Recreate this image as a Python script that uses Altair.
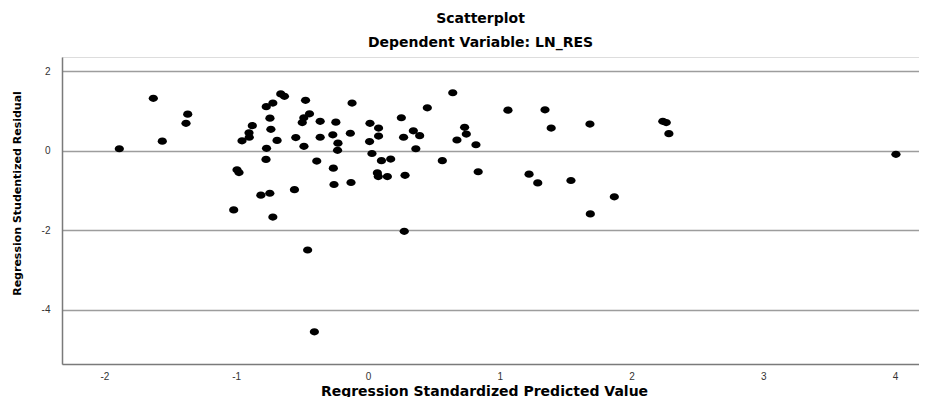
import altair as alt
import pandas as pd

# Regression Standardized Predicted Value
pred = [-1.887, -1.629, -1.561, -1.368, -1.381, -1.019, -0.994, -0.979, -0.956, -0.903,
        -0.901, -0.878, -0.813, -0.774, -0.770, -0.772, -0.722, -0.744, -0.737, -0.745,
        -0.722, -0.690, -0.662, -0.634, -0.558, -0.548, -0.486, -0.499, -0.487, -0.444,
        -0.474, -0.458, -0.407, -0.389, -0.363, -0.363, -0.263, -0.258, -0.267, -0.244,
        -0.228, -0.231, -0.129, -0.134, -0.121, 0.015, 0.080, 0.080, 0.012, 0.030,
        0.102, 0.172, 0.071, 0.078, 0.147, 0.281, 0.253, 0.270, 0.344, 0.392,
        0.363, 0.275, 0.450, 0.564, 0.643, 0.675, 0.733, 0.746, 0.819, 0.836,
        1.062, 1.222, 1.288, 1.343, 1.390, 1.540, 1.684, 1.687, 1.869, 2.237,
        2.263, 2.283, 4.006]

# Regression Studentized Residual
resid = [0.05, 1.32, 0.24, 0.92, 0.69, -1.49, -0.48, -0.55, 0.25, 0.45,
         0.34, 0.63, -1.12, -0.22, 0.06, 1.11, 1.20, 0.82, 0.54, -1.07,
         -1.67, 0.26, 1.43, 1.37, -0.98, 0.33, 0.11, 0.71, 0.83, 0.93,
         1.27, -2.50, -4.56, -0.26, 0.74, 0.34, -0.44, -0.85, 0.40, 0.72,
         0.19, 0.01, -0.80, 0.44, 1.20, 0.69, 0.57, 0.37, 0.23, -0.07,
         -0.25, -0.21, -0.56, -0.65, -0.65, -0.62, 0.83, 0.34, 0.50, 0.38,
         0.05, -2.03, 1.08, -0.25, 1.46, 0.27, 0.59, 0.42, 0.15, -0.53,
         1.02, -0.59, -0.81, 1.03, 0.57, -0.75, 0.67, -1.59, -1.16, 0.74,
         0.71, 0.43, -0.09]

x_ticks = [-2, -1, 0, 1, 2, 3, 4]
y_ticks = [-4, -2, 0, 2]

df = pd.DataFrame({"pred": pred, "resid": resid})

ellipse = "M -1 0 A 1 0.78 0 1 1 1 0 A 1 0.78 0 1 1 -1 0 Z"

chart = alt.Chart(df).mark_point(
    filled=True, shape=ellipse, size=85, color="black", opacity=1, strokeWidth=0
).encode(
    x=alt.X("pred:Q",
            scale=alt.Scale(domain=[-2.322, 4.181], nice=False, zero=False),
            axis=alt.Axis(values=x_ticks, title="Regression Standardized Predicted Value",
                          grid=False, ticks=False, labelPadding=7,
                          labelExpr="toString(datum.value)",
                          domainColor="#7a7a7a", domainWidth=1.5,
                          labelFont="Liberation Sans", labelFontSize=10, labelColor="#333333",
                          titleFont="DejaVu Sans", titleFontSize=14, titleFontWeight="bold",
                          titleColor="#000000", titleX=422, titleY=27,
                          titleAlign="center", titleBaseline="middle")),
    y=alt.Y("resid:Q",
            scale=alt.Scale(domain=[-5.37, 2.36], nice=False, zero=False),
            axis=alt.Axis(values=y_ticks, title="Regression Studentized Residual",
                          grid=True, gridColor="#9d9d9d", gridWidth=1.6,
                          ticks=False, labelPadding=12,
                          labelExpr="toString(datum.value)",
                          domainColor="#7a7a7a", domainWidth=1.5,
                          labelFont="Liberation Sans", labelFontSize=10, labelColor="#333333",
                          titleFont="DejaVu Sans", titleFontSize=11, titleFontWeight="bold",
                          titleColor="#000000", titleX=-45, titleY=136, titleAngle=270,
                          titleAlign="center", titleBaseline="middle")),
).properties(
    width=857,
    height=307,
    autosize=alt.AutoSizeParams(type="none"),
    padding={"left": 54, "top": 49, "right": 0, "bottom": 33},
    title=alt.TitleParams(
        text="Scatterplot",
        subtitle="Dependent Variable: LN_RES",
        anchor="middle",
        dx=-10,
        offset=7,
        font="DejaVu Sans", fontSize=14, fontWeight="bold", color="#000000",
        subtitleFont="DejaVu Sans", subtitleFontSize=14, subtitleFontWeight="bold",
        subtitleColor="#000000", subtitlePadding=10,
    ),
).configure_view(stroke=None).configure(background="white")

chart.save("out.html", embed_options={"renderer": "svg", "actions": False})
